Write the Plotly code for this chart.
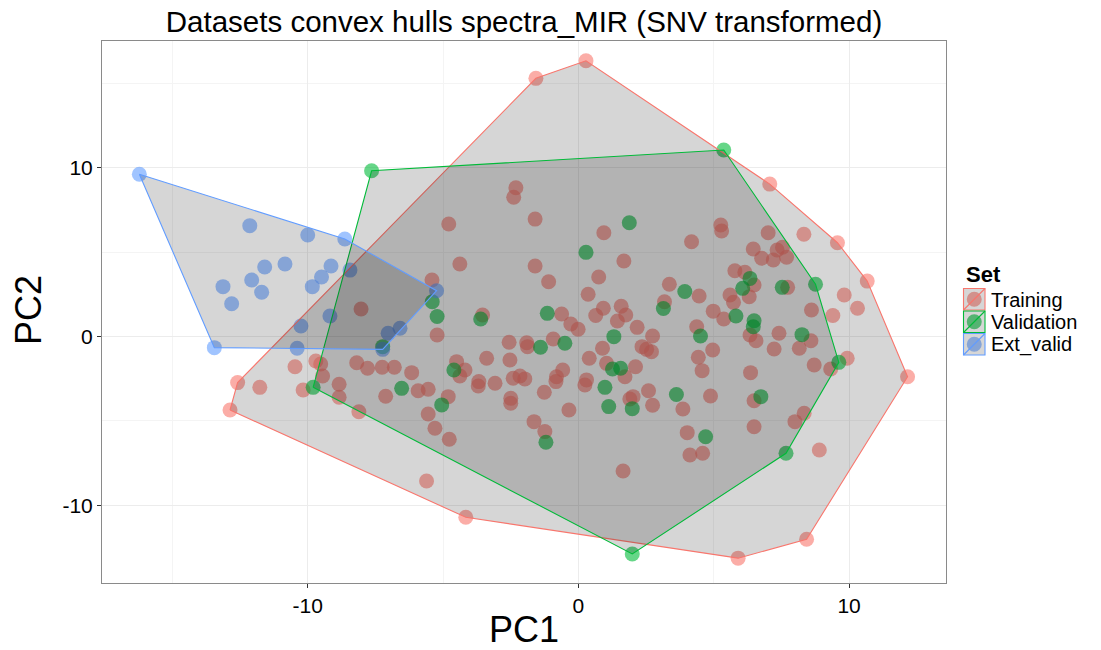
import plotly.graph_objects as go

# PCA scores (PC1, PC2) of the MIR spectra after SNV, split by data set
train_pc1 = [
    -1.57, 0.28, -2.31, -2.39, -1.60, -4.79, 0.94, -4.38, -1.60, 1.68,
    -1.10, 0.75, -5.41, 0.36, 3.36, 3.18, 0.92, 1.58, 1.75, 0.64,
    -0.62, -3.54, 1.44, -5.22, -2.56, -1.91, -1.88, -0.93, -0.28, -0.01,
    2.17, 2.74, 2.35, 2.70, 2.52, 0.89, 0.40, 1.04, 1.72, 2.11,
    0.30, 0.24, -0.58, -0.81, -0.83, -1.26, -1.98, -2.16, -2.41, -2.53,
    -3.39, -3.08, -3.68, -3.70, -4.19, -4.50, -4.38, -4.81, -5.55, -5.92,
    -6.16, -6.80, -7.25, -7.12, -5.55, -5.30, -4.77, -2.50, -2.50, -0.35,
    -1.64, -1.24, 2.02, 1.90, 2.59, 2.74, 1.65, -5.61, -4.16, 3.86,
    -8.03, -12.59, -12.87, -11.77, -10.47, -9.70, -9.52, -9.45, -10.17, -8.84,
    -8.84, -8.11, -8.19, -7.79, 7.07, 8.33, 9.57, 10.67, 5.26, 5.29,
    4.18, 7.01, 6.46, 6.77, 7.20, 7.34, 7.54, 7.69, 5.78, 6.15,
    6.49, 4.46, 5.60, 5.73, 6.31, 7.73, 9.82, 10.31, 8.61, 9.40,
    4.98, 12.16, 8.43, 5.90, 9.93, 8.71, 9.32, 8.34, 8.00, 8.90,
    5.37, 4.37, 6.34, 6.56, 7.41, 7.23, 8.16, 8.59, 4.96, 4.43,
    4.57, 6.36, 4.88, 6.49, 6.49, 4.02, 4.12, 4.59,
]
train_pc2 = [
    15.28, 16.32, 8.80, 8.24, 6.95, 6.66, 6.14, 4.29, 4.17, 4.47,
    3.24, 3.52, 3.34, 2.50, 3.09, 2.06, 1.67, 1.79, 1.27, 1.24,
    1.33, 1.27, 0.92, 0.09, -0.34, -0.37, -0.60, -0.15, 0.74, 0.43,
    0.54, 0.03, -0.60, -0.90, -0.76, -0.70, -1.29, -1.59, -2.38, -1.79,
    -2.57, -2.87, -1.98, -2.38, -2.67, -3.30, -2.51, -2.34, -2.47, -1.39,
    -1.29, -2.77, -2.67, -2.93, -1.98, -1.49, -2.34, -3.56, -3.12, -3.21,
    -2.14, -1.82, -1.82, -3.54, -4.59, -5.43, -6.08, -3.66, -3.95, -4.35,
    -5.04, -5.63, -3.56, -3.70, -3.21, -4.07, -7.96, -8.55, -10.70, -4.29,
    1.63, -2.73, -4.35, -3.01, -1.79, -1.45, -1.63, -2.34, -3.17, -2.83,
    -3.60, -4.45, -1.55, -1.88, 9.02, 6.05, 5.55, 3.28, 6.60, 6.24,
    5.61, 6.14, 5.18, 4.63, 4.53, 5.12, 5.28, 4.69, 3.89, 3.80,
    3.05, 2.40, 2.46, 2.02, 2.35, 2.91, 2.46, 1.67, 1.57, 1.24,
    1.50, -2.38, -12.00, -13.12, -1.29, -1.69, -1.92, -4.54, -5.04, -6.72,
    1.04, 0.58, 0.09, -0.25, 0.19, -0.74, -0.70, -0.25, -0.80, -1.23,
    -2.02, -2.14, -3.52, -3.80, -5.34, -5.69, -7.01, -6.91,
]

valid_pc1 = [
    -7.64, 5.37, 8.76, 9.62, 7.67, 1.99, -9.80, 1.88, 0.28, -5.40,
    -5.22, -3.61, -1.15, 3.14, 3.93, -1.40, -0.50, 1.31, -4.60, -6.53,
    -5.05, 0.98, 1.26, 1.56, 1.12, 1.99, -1.20, 3.62, 5.82, 6.49,
    6.46, 4.51, 8.26, 6.74, 4.70, 6.34, 6.07, 7.53, -7.23,
]
valid_pc2 = [
    9.81, 11.04, 3.09, -1.53, -6.91, -12.87, -3.01, 6.73, 4.98, 2.06,
    1.18, 1.04, 1.37, 1.66, 2.66, -0.64, -0.40, -0.01, -1.98, -3.07,
    -4.05, -3.01, -1.92, -1.88, -4.15, -4.27, -6.26, -3.43, 1.21, 0.93,
    0.58, 0.03, 0.11, -3.56, -5.93, 3.44, 2.85, 2.91, -0.60,
]

ext_pc1 = [
    -16.22, -12.14, -10.00, -8.63, -10.84, -11.59, -9.14, -9.49, -12.07, -13.13,
    -11.70, -9.83, -12.81, -8.44, -9.18, -10.25, -10.39, -13.45, -7.23, -7.03,
    -6.59, -5.24,
]
ext_pc2 = [
    9.60, 6.56, 6.01, 5.77, 4.29, 4.11, 4.17, 3.52, 3.34, 2.95,
    2.62, 2.95, 1.94, 3.93, 1.21, 0.62, -0.70, -0.66, -0.76, 0.19,
    0.49, 2.71,
]

set_names = ["Training", "Validation", "Ext_valid"]
set_colors = ["#F8766D", "#00BA38", "#619CFF"]
tick_vals = [-10, 0, 10]
tick_text = ["-10", "0", "10"]

hull_fill = "rgba(0,0,0,0.16)"
point_alpha = 0.6
font_family = "Liberation Sans, Arial, sans-serif"

W, H = 1101, 650
M_L, M_R, M_T, M_B = 102, 155, 41, 67

sets = [
    (train_pc1, train_pc2),
    (valid_pc1, valid_pc2),
    (ext_pc1, ext_pc2),
]


def convex_hull(xs, ys):
    """Andrew's monotone chain; returns a closed ring of hull vertices."""
    pts = sorted(set(zip(xs, ys)))
    if len(pts) < 3:
        return pts

    def cross(o, a, b):
        return (a[0] - o[0]) * (b[1] - o[1]) - (a[1] - o[1]) * (b[0] - o[0])

    lower = []
    for p in pts:
        while len(lower) >= 2 and cross(lower[-2], lower[-1], p) <= 0:
            lower.pop()
        lower.append(p)
    upper = []
    for p in reversed(pts):
        while len(upper) >= 2 and cross(upper[-2], upper[-1], p) <= 0:
            upper.pop()
        upper.append(p)
    ring = lower[:-1] + upper[:-1]
    return ring + [ring[0]]


def rgba(hex_color, alpha):
    h = hex_color.lstrip("#")
    r, g, b = (int(h[i:i + 2], 16) for i in (0, 2, 4))
    return f"rgba({r},{g},{b},{alpha})"


# pixel position in the page -> paper coordinates (legend block, y title)
def paper_x(px):
    return (px - M_L) / (W - M_L - M_R)


def paper_y(py):
    return (H - M_B - py) / (H - M_T - M_B)


fig = go.Figure()

# points go underneath the hull polygons
for name, color, (px, py) in zip(set_names, set_colors, sets):
    fig.add_trace(go.Scatter(
        x=px, y=py, mode="markers", name=name, legendgroup=name,
        showlegend=False,
        marker=dict(size=15, color=color, opacity=point_alpha,
                    line=dict(width=0)),
        hoverinfo="x+y+name",
    ))

# convex hull of each set, semi-transparent grey fill with coloured outline
for name, color, (px, py) in zip(set_names, set_colors, sets):
    ring = convex_hull(px, py)
    fig.add_trace(go.Scatter(
        x=[p[0] for p in ring], y=[p[1] for p in ring],
        mode="lines", fill="toself", fillcolor=hull_fill,
        line=dict(color=color, width=1.1),
        name=name, legendgroup=name, showlegend=False, hoverinfo="skip",
    ))

# legend block: "Set" title plus one key (grey box, point, diagonal) per set
shapes = []
annotations = []
key_left, key_size, key_top = 963, 22.5, 288
label_size = 20
annotations.append(dict(
    text="<b>Set</b>", xref="paper", yref="paper",
    x=paper_x(964), y=paper_y(274), xanchor="left", yanchor="middle",
    showarrow=False, font=dict(family=font_family, size=22, color="#000000"),
))
for i, (name, color) in enumerate(zip(set_names, set_colors)):
    top = key_top + i * key_size
    bottom = top + key_size
    cx, cy = key_left + key_size / 2, top + key_size / 2
    r = 7.5
    shapes.append(dict(
        type="circle", xref="paper", yref="paper",
        x0=paper_x(cx - r), x1=paper_x(cx + r),
        y0=paper_y(cy + r), y1=paper_y(cy - r),
        fillcolor=rgba(color, point_alpha), line=dict(width=0),
    ))
    shapes.append(dict(
        type="rect", xref="paper", yref="paper",
        x0=paper_x(key_left + 0.5), x1=paper_x(key_left + key_size - 0.5),
        y0=paper_y(bottom - 0.5), y1=paper_y(top + 0.5),
        fillcolor=hull_fill, line=dict(color=color, width=1.1),
    ))
    shapes.append(dict(
        type="line", xref="paper", yref="paper",
        x0=paper_x(key_left + 0.5), x1=paper_x(key_left + key_size - 0.5),
        y0=paper_y(bottom - 0.5), y1=paper_y(top + 0.5),
        line=dict(color=color, width=1.1),
    ))
    annotations.append(dict(
        text=name, xref="paper", yref="paper",
        x=paper_x(989), y=paper_y(cy + 0.5), xanchor="left", yanchor="middle",
        showarrow=False,
        font=dict(family=font_family, size=label_size, color="#000000"),
    ))

# vertical axis title
annotations.append(dict(
    text="PC2", xref="paper", yref="paper",
    x=paper_x(28), y=paper_y(310), xanchor="center", yanchor="middle",
    textangle=-90, showarrow=False,
    font=dict(family=font_family, size=36, color="#000000"),
))

axis_common = dict(
    showgrid=True, gridcolor="#ececec", gridwidth=1,
    zeroline=False, showline=True, mirror=True,
    linecolor="#8a8a8a", linewidth=1,
    ticks="outside", ticklen=4, tickcolor="#333333", tickwidth=1,
    tickvals=tick_vals, ticktext=tick_text,
    tickfont=dict(family=font_family, size=21, color="#000000"),
    automargin=False,
)

fig.update_layout(
    width=W, height=H,
    paper_bgcolor="white", plot_bgcolor="white",
    margin=dict(l=M_L, r=M_R, t=M_T, b=M_B),
    font=dict(family=font_family, color="#000000"),
    title=dict(
        text="Datasets convex hulls spectra_MIR (SNV transformed)",
        x=0.5, xref="paper", xanchor="center",
        y=1 - 22 / H, yref="container", yanchor="middle",
        font=dict(family=font_family, size=29.5, color="#000000"),
    ),
    xaxis=dict(
        range=[-17.6, 13.58],
        minor=dict(tickvals=[-15, -5, 5], showgrid=True,
                   gridcolor="#f4f4f4", ticks=""),
        title=dict(text="PC1", font=dict(family=font_family, size=36),
                   standoff=6),
        **axis_common,
    ),
    yaxis=dict(
        range=[-14.59, 17.49],
        minor=dict(tickvals=[-15, -5, 5, 15], showgrid=True,
                   gridcolor="#f4f4f4", ticks=""),
        **axis_common,
    ),
    shapes=shapes,
    annotations=annotations,
    showlegend=False,
)

fig.write_html("out.html")
